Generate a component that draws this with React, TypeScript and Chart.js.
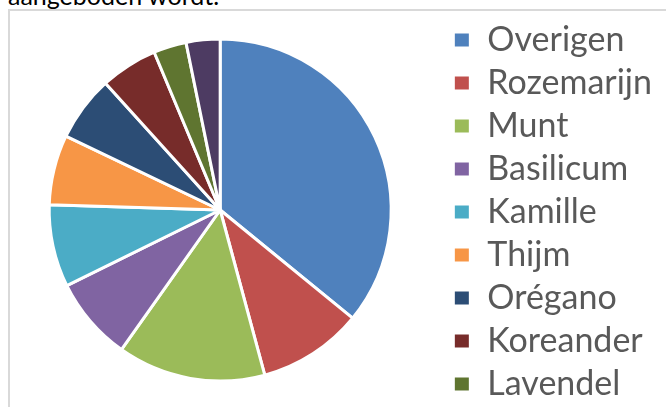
import React, { useEffect, useRef } from "react";
import { Chart, registerables } from "chart.js";

Chart.register(...registerables);

const categories = [
  "Overigen",
  "Rozemarijn",
  "Munt",
  "Basilicum",
  "Kamille",
  "Thijm",
  "Orégano",
  "Koreander",
  "Lavendel",
  "Salie",
];
const shares = [35.9, 9.9, 14.0, 7.9, 7.8, 6.6, 6.2, 5.4, 3.1, 3.2];
const sliceColors = [
  "#4F81BD",
  "#C0504D",
  "#9BBB59",
  "#8064A2",
  "#4BACC6",
  "#F79646",
  "#2C4D75",
  "#772C2A",
  "#5F7530",
  "#4D3B62",
];

const CANVAS_W = 720;
const CANVAS_H = 480;

export default function App() {
  const ref = useRef<HTMLCanvasElement | null>(null);

  useEffect(() => {
    if (!ref.current) return;
    const chart = new Chart(ref.current, {
      type: "pie",
      data: {
        labels: categories,
        datasets: [
          {
            data: shares,
            backgroundColor: sliceColors,
            borderColor: "#ffffff",
            borderWidth: 3,
            radius: 171,
          },
        ],
      },
      options: {
        responsive: false,
        animation: false,
        layout: { padding: { left: 0, top: 0, right: 54, bottom: 0 } },
        plugins: {
          tooltip: { enabled: false },
          title: {
            display: true,
            text: " ",
            position: "bottom",
            fullSize: false,
            font: { size: 1, lineHeight: 1 },
            padding: { top: 87, bottom: 0 },
          },
          legend: {
            position: "right",
            align: "start",
            labels: {
              boxWidth: 17,
              boxHeight: 16,
              padding: 9,
              color: "#595959",
              font: { family: "Lato", size: 34 },
            },
          },
        },
      },
    });
    return () => chart.destroy();
  }, []);

  return (
    <div
      style={{
        position: "fixed",
        left: 0,
        top: 0,
        width: 666,
        height: 407,
        overflow: "hidden",
        background: "#ffffff",
      }}
    >
      <div
        style={{
          position: "absolute",
          left: 8,
          top: -20,
          fontFamily: "Lato",
          fontSize: 25,
          color: "#000",
          whiteSpace: "nowrap",
        }}
      >
        aangeboden wordt.
      </div>
      <div
        style={{
          position: "absolute",
          left: 8,
          top: 9,
          width: 800,
          height: 600,
          borderLeft: "2px solid #d9d9d9",
          borderTop: "2px solid #d9d9d9",
        }}
      />
      <canvas
        ref={ref}
        width={CANVAS_W}
        height={CANVAS_H}
        style={{
          position: "absolute",
          left: -4,
          top: 14,
          width: CANVAS_W,
          height: CANVAS_H,
        }}
      />
    </div>
  );
}
